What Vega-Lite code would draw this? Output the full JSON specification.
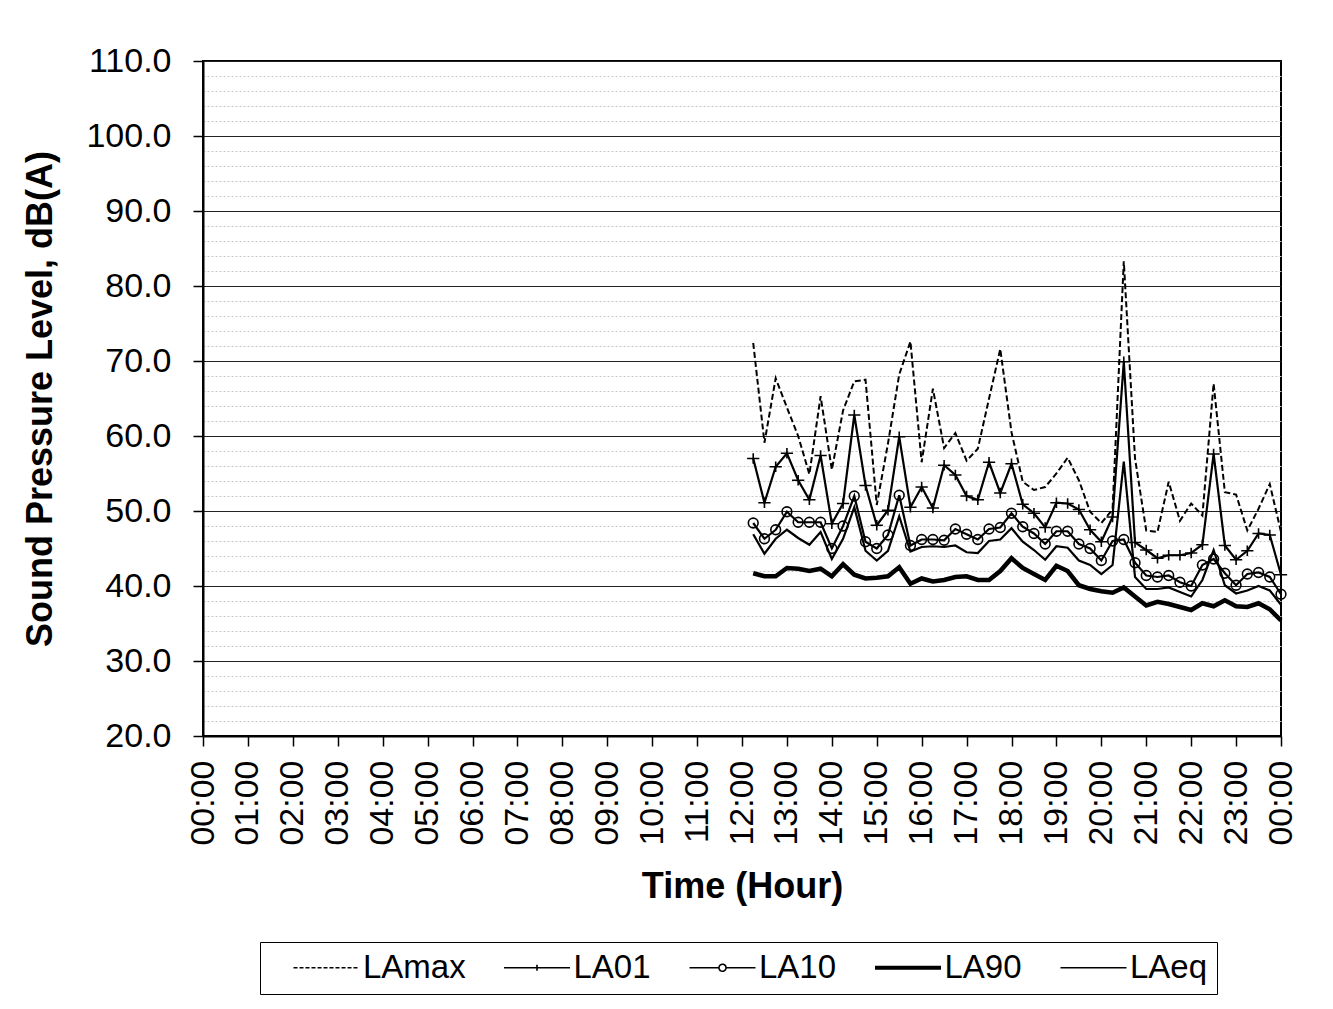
{
  "$schema": "https://vega.github.io/schema/vega-lite/v6.json",
  "width": 1078,
  "height": 675,
  "autosize": "none",
  "padding": {"left": 203, "top": 61, "right": 52, "bottom": 273},
  "background": "white",
  "data": {
    "values": [
      {"hour": 12.25, "LAmax": 72.4, "LA01": 57.0, "LA10": 48.4, "LA90": 41.7, "LAeq": 46.9},
      {"hour": 12.5, "LAmax": 59.1, "LA01": 51.1, "LA10": 46.3, "LA90": 41.3, "LAeq": 44.3},
      {"hour": 12.75, "LAmax": 67.7, "LA01": 55.9, "LA10": 47.5, "LA90": 41.3, "LAeq": 46.3},
      {"hour": 13.0, "LAmax": 63.8, "LA01": 57.7, "LA10": 49.9, "LA90": 42.4, "LAeq": 47.5},
      {"hour": 13.25, "LAmax": 60.0, "LA01": 54.1, "LA10": 48.5, "LA90": 42.3, "LAeq": 46.4},
      {"hour": 13.5, "LAmax": 54.9, "LA01": 51.5, "LA10": 48.5, "LA90": 42.0, "LAeq": 45.5},
      {"hour": 13.75, "LAmax": 65.3, "LA01": 57.4, "LA10": 48.5, "LA90": 42.3, "LAeq": 47.2},
      {"hour": 14.0, "LAmax": 55.5, "LA01": 48.3, "LA10": 45.0, "LA90": 41.3, "LAeq": 43.6},
      {"hour": 14.25, "LAmax": 63.4, "LA01": 51.0, "LA10": 48.0, "LA90": 42.9, "LAeq": 46.3},
      {"hour": 14.5, "LAmax": 67.3, "LA01": 62.8, "LA10": 52.0, "LA90": 41.5, "LAeq": 50.5},
      {"hour": 14.75, "LAmax": 67.5, "LA01": 53.4, "LA10": 45.9, "LA90": 41.0, "LAeq": 44.7},
      {"hour": 15.0, "LAmax": 50.8, "LA01": 48.1, "LA10": 45.0, "LA90": 41.1, "LAeq": 43.4},
      {"hour": 15.25, "LAmax": 59.0, "LA01": 50.1, "LA10": 46.8, "LA90": 41.3, "LAeq": 44.7},
      {"hour": 15.5, "LAmax": 68.2, "LA01": 59.9, "LA10": 52.1, "LA90": 42.5, "LAeq": 49.3},
      {"hour": 15.75, "LAmax": 72.6, "LA01": 50.5, "LA10": 45.4, "LA90": 40.3, "LAeq": 44.6},
      {"hour": 16.0, "LAmax": 56.5, "LA01": 53.2, "LA10": 46.2, "LA90": 41.0, "LAeq": 45.2},
      {"hour": 16.25, "LAmax": 66.3, "LA01": 50.4, "LA10": 46.2, "LA90": 40.6, "LAeq": 45.3},
      {"hour": 16.5, "LAmax": 58.4, "LA01": 56.1, "LA10": 46.1, "LA90": 40.8, "LAeq": 45.2},
      {"hour": 16.75, "LAmax": 60.4, "LA01": 54.8, "LA10": 47.6, "LA90": 41.2, "LAeq": 45.4},
      {"hour": 17.0, "LAmax": 56.7, "LA01": 52.0, "LA10": 46.9, "LA90": 41.3, "LAeq": 44.5},
      {"hour": 17.25, "LAmax": 58.3, "LA01": 51.5, "LA10": 46.2, "LA90": 40.8, "LAeq": 44.4},
      {"hour": 17.5, "LAmax": 65.0, "LA01": 56.5, "LA10": 47.6, "LA90": 40.8, "LAeq": 46.0},
      {"hour": 17.75, "LAmax": 71.6, "LA01": 52.4, "LA10": 47.8, "LA90": 42.0, "LAeq": 46.2},
      {"hour": 18.0, "LAmax": 60.5, "LA01": 56.3, "LA10": 49.7, "LA90": 43.7, "LAeq": 47.7},
      {"hour": 18.25, "LAmax": 53.9, "LA01": 50.9, "LA10": 47.9, "LA90": 42.4, "LAeq": 45.9},
      {"hour": 18.5, "LAmax": 52.8, "LA01": 49.7, "LA10": 47.0, "LA90": 41.6, "LAeq": 44.8},
      {"hour": 18.75, "LAmax": 53.2, "LA01": 47.8, "LA10": 45.6, "LA90": 40.8, "LAeq": 43.5},
      {"hour": 19.0, "LAmax": 55.0, "LA01": 51.1, "LA10": 47.3, "LA90": 42.7, "LAeq": 45.3},
      {"hour": 19.25, "LAmax": 57.1, "LA01": 51.0, "LA10": 47.3, "LA90": 42.0, "LAeq": 45.1},
      {"hour": 19.5, "LAmax": 54.1, "LA01": 50.2, "LA10": 45.6, "LA90": 40.1, "LAeq": 43.4},
      {"hour": 19.75, "LAmax": 49.9, "LA01": 47.5, "LA10": 45.0, "LA90": 39.6, "LAeq": 42.8},
      {"hour": 20.0, "LAmax": 48.4, "LA01": 45.9, "LA10": 43.4, "LA90": 39.3, "LAeq": 41.6},
      {"hour": 20.25, "LAmax": 50.2, "LA01": 49.2, "LA10": 46.0, "LA90": 39.1, "LAeq": 42.8},
      {"hour": 20.5, "LAmax": 83.3, "LA01": 69.9, "LA10": 46.2, "LA90": 39.8, "LAeq": 56.6},
      {"hour": 20.75, "LAmax": 57.0, "LA01": 45.8, "LA10": 43.1, "LA90": 38.6, "LAeq": 41.2},
      {"hour": 21.0, "LAmax": 47.4, "LA01": 44.8, "LA10": 41.4, "LA90": 37.4, "LAeq": 39.6},
      {"hour": 21.25, "LAmax": 47.2, "LA01": 43.7, "LA10": 41.2, "LA90": 37.9, "LAeq": 39.6},
      {"hour": 21.5, "LAmax": 53.9, "LA01": 44.1, "LA10": 41.4, "LA90": 37.6, "LAeq": 39.8},
      {"hour": 21.75, "LAmax": 48.7, "LA01": 44.1, "LA10": 40.5, "LA90": 37.2, "LAeq": 39.2},
      {"hour": 22.0, "LAmax": 51.0, "LA01": 44.4, "LA10": 40.0, "LA90": 36.8, "LAeq": 38.6},
      {"hour": 22.25, "LAmax": 49.4, "LA01": 45.5, "LA10": 42.8, "LA90": 37.7, "LAeq": 40.8},
      {"hour": 22.5, "LAmax": 67.0, "LA01": 57.6, "LA10": 43.6, "LA90": 37.3, "LAeq": 44.8},
      {"hour": 22.75, "LAmax": 52.5, "LA01": 45.4, "LA10": 41.7, "LA90": 38.1, "LAeq": 40.1},
      {"hour": 23.0, "LAmax": 52.2, "LA01": 43.5, "LA10": 40.1, "LA90": 37.3, "LAeq": 39.0},
      {"hour": 23.25, "LAmax": 47.4, "LA01": 44.7, "LA10": 41.6, "LA90": 37.2, "LAeq": 39.4},
      {"hour": 23.5, "LAmax": 50.3, "LA01": 47.0, "LA10": 41.8, "LA90": 37.7, "LAeq": 40.0},
      {"hour": 23.75, "LAmax": 53.6, "LA01": 46.8, "LA10": 41.2, "LA90": 36.9, "LAeq": 39.4},
      {"hour": 24.0, "LAmax": 47.2, "LA01": 41.5, "LA10": 38.9, "LA90": 35.4, "LAeq": 37.5}
    ]
  },
  "transform": [
    {"fold": ["LAmax", "LA01", "LA10", "LA90", "LAeq"], "as": ["series", "value"]}
  ],
  "encoding": {
    "x": {
      "field": "hour",
      "type": "quantitative",
      "scale": {"domain": [0, 24], "nice": false, "zero": false},
      "axis": {
        "title": "Time (Hour)",
        "values": [0,1,2,3,4,5,6,7,8,9,10,11,12,13,14,15,16,17,18,19,20,21,22,23,24],
        "labelExpr": "(datum.value < 10 || datum.value == 24 ? '0' : '') + (datum.value % 24) + ':00'",
        "labelAngle": -90,
        "labelPadding": 14,
        "labelFlush": false,
        "labelOverlap": false,
        "grid": false,
        "titlePadding": 24
      }
    },
    "y": {
      "field": "value",
      "type": "quantitative",
      "scale": {"domain": [20, 110], "nice": false, "zero": false},
      "axis": {
        "title": "Sound Pressure Level, dB(A)",
        "values": [20,22,24,26,28,30,32,34,36,38,40,42,44,46,48,50,52,54,56,58,60,62,64,66,68,70,72,74,76,78,80,82,84,86,88,90,92,94,96,98,100,102,104,106,108,110],
        "labelExpr": "datum.value % 10 === 0 ? format(datum.value, '.1f') : ''",
        "labelPadding": 22,
        "labelFlush": false,
        "labelOverlap": false,
        "grid": true,
        "gridColor": {"condition": {"test": "datum.value % 10 === 0", "value": "#222222"}, "value": "#c4c4c4"},
        "gridDash": {"condition": {"test": "datum.value % 10 === 0", "value": []}, "value": [2, 2]},
        "gridWidth": {"condition": {"test": "datum.value % 10 === 0", "value": 1.2}, "value": 1},
        "tickOpacity": {"condition": {"test": "datum.value % 10 === 0", "value": 1}, "value": 0},
        "titlePadding": 26
      }
    }
  },
  "layer": [
    {
      "transform": [{"filter": "datum.series === 'LAmax'"}],
      "mark": {"type": "line", "color": "black", "strokeWidth": 2, "strokeDash": [6, 3]}
    },
    {
      "transform": [{"filter": "datum.series === 'LA01'"}],
      "mark": {"type": "line", "color": "black", "strokeWidth": 2.2}
    },
    {
      "transform": [{"filter": "datum.series === 'LA10'"}],
      "mark": {"type": "line", "color": "black", "strokeWidth": 2.2}
    },
    {
      "transform": [{"filter": "datum.series === 'LAeq'"}],
      "mark": {"type": "line", "color": "black", "strokeWidth": 2.2}
    },
    {
      "transform": [{"filter": "datum.series === 'LA90'"}],
      "mark": {"type": "line", "color": "black", "strokeWidth": 4.5}
    },
    {
      "transform": [{"filter": "datum.series === 'LA01'"}],
      "mark": {"type": "point", "shape": "M-1,0H1M0,-0.85V0.85", "size": 150, "filled": false, "color": "black", "strokeWidth": 1.6, "opacity": 1}
    },
    {
      "transform": [{"filter": "datum.series === 'LA10'"}],
      "mark": {"type": "point", "shape": "circle", "size": 95, "filled": false, "color": "black", "strokeWidth": 1.6, "opacity": 1}
    },
    {
      "mark": {"type": "point", "filled": false, "color": "black", "opacity": 0, "strokeWidth": 1.6},
      "encoding": {
        "shape": {
          "field": "series",
          "type": "nominal",
          "scale": {
            "domain": ["LAmax", "LA01", "LA10", "LA90", "LAeq"],
            "range": [
              "M-1,0H5",
              "M-1,0H5M2,-0.28V0.28",
              "M-1,0H1.68M2.32,0H5M2.32,0A0.32,0.32,0,1,1,1.68,0A0.32,0.32,0,1,1,2.32,0",
              "M-1,-0.12H5M-1,-0.04H5M-1,0.04H5M-1,0.12H5",
              "M-1,0H5"
            ]
          },
          "legend": {"title": null}
        },
        "strokeDash": {
          "field": "series",
          "type": "nominal",
          "scale": {
            "domain": ["LAmax", "LA01", "LA10", "LA90", "LAeq"],
            "range": [[4, 2], [1, 0], [1, 0], [1, 0], [1, 0]]
          },
          "legend": {"title": null}
        }
      }
    }
  ],
  "config": {
    "font": "Liberation Sans",
    "view": {"stroke": "black", "strokeWidth": 2},
    "axis": {
      "domainColor": "black",
      "domainWidth": 2,
      "tickColor": "black",
      "tickWidth": 1.5,
      "tickSize": 10,
      "labelFontSize": 34,
      "labelColor": "black",
      "labelFont": "Liberation Sans",
      "titleFontSize": 36,
      "titleFontWeight": "bold",
      "titleColor": "black",
      "titleFont": "Liberation Sans"
    },
    "legend": {
      "orient": "none",
      "legendX": 57,
      "legendY": 881,
      "direction": "horizontal",
      "columns": 5,
      "symbolSize": 484,
      "symbolOffset": 19,
      "symbolStrokeColor": "black",
      "symbolStrokeWidth": 1.6,
      "symbolOpacity": 1,
      "labelFontSize": 33,
      "labelFont": "Liberation Sans",
      "labelColor": "black",
      "labelOffset": 42,
      "columnPadding": 13.5,
      "padding": 9,
      "strokeColor": "black",
      "fillColor": "white"
    }
  }
}
